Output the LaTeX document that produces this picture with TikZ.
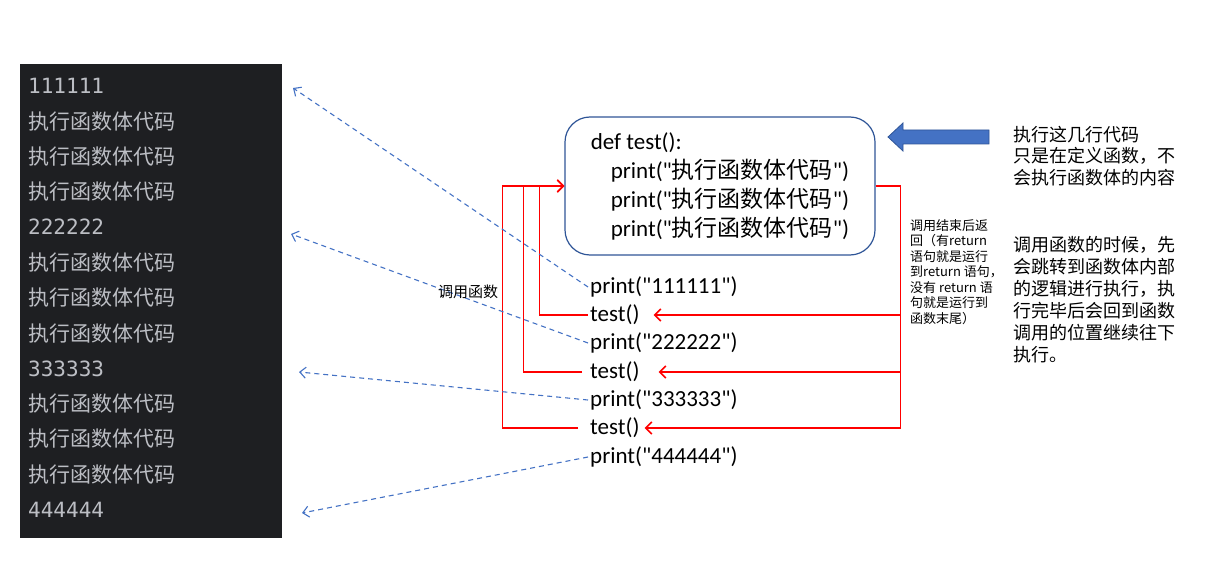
\documentclass[tikz,border=0pt]{standalone}
\usepackage{fontspec}
\setmainfont{Noto Sans CJK SC}
\newfontfamily\cjkfont{Noto Sans CJK SC}
\newfontfamily\codefont{Carlito}
\newfontfamily\monofont{DejaVu Sans Mono}
\usetikzlibrary{arrows.meta,calc}
\definecolor{termbg}{HTML}{1E1F22}
\definecolor{termfg}{HTML}{BCBEC4}
\definecolor{linkblue}{HTML}{4472C4}
\definecolor{boxblue}{HTML}{2F5597}
\newcommand\bodytext{执行函数体代码}
\begin{document}
\begin{tikzpicture}[x=1pt,y=-1pt,
    term/.style={anchor=west,inner sep=0pt,text=termfg,font=\fontsize{21}{24}\selectfont},
    codeline/.style={anchor=west,inner sep=2pt,font=\fontsize{23}{28}\selectfont\codefont},
    fnbox/.style={draw=boxblue,line width=1.2pt,rounded corners=25pt,minimum width=310pt,
      minimum height=138pt,align=left,font=\fontsize{23}{29}\selectfont\codefont},
    call/.style={red,line width=1.5pt,-{Straight Barb[length=6pt,width=12pt]}},
    ret/.style={red,line width=1.5pt,-{Straight Barb[length=6pt,width=12pt]}},
    flow/.style={linkblue,line width=1.1pt,dash pattern=on 5pt off 4pt,-{Straight Barb[length=6pt,width=11pt]}},
    note/.style={inner sep=0pt,align=left}]
  \useasboundingbox (0,0) rectangle (1206,561);
  \fill[termbg] (20,64) rectangle (282,538);
  \foreach \t [count=\i from 0] in {{\monofont 111111},\bodytext,\bodytext,\bodytext,
      {\monofont 222222},\bodytext,\bodytext,\bodytext,
      {\monofont 333333},\bodytext,\bodytext,\bodytext,{\monofont 444444}}
    \node[term] (o\i) at (28,{86+35.3*\i}) {\t};
  \node[fnbox] (fn) at (720,186) {def test():\\
    \hspace{20pt}print("{\cjkfont\bodytext}")\\
    \hspace{20pt}print("{\cjkfont\bodytext}")\\
    \hspace{20pt}print("{\cjkfont\bodytext}")};
  \node[codeline] (p1) at (588,287) {print("111111")};
  \node[codeline] (c1) at (588,315) {test()};
  \node[codeline] (p2) at (588,343) {print("222222")};
  \node[codeline] (c2) at (588,372) {test()};
  \node[codeline] (p3) at (588,400) {print("333333")};
  \node[codeline] (c3) at (588,428) {test()};
  \node[codeline] (p4) at (588,457) {print("444444")};
  \draw[call] (c1.west) -| ($(fn.west)+(-25,0)$) -- (fn.west);
  \draw[call,shorten <=6pt] (c2.west) -| ($(fn.west)+(-41,0)$) -- (fn.west);
  \draw[call,shorten <=10pt] (c3.west) -| ($(fn.west)+(-62,0)$) -- (fn.west);
  \coordinate (rt) at ($(fn.east)+(25,0)$);
  \draw[ret] (fn.east) -- (rt) |- ([xshift=3pt]c3.east);
  \draw[ret] (rt) |- ([xshift=12pt]c1.east);
  \draw[ret] (rt) |- ([xshift=17pt]c2.east);
  \coordinate (hit1) at (293,88);
  \coordinate (hit2) at (291,234);
  \coordinate (hit3) at (299,372);
  \coordinate (hit4) at (302,513);
  \draw[flow] (p1.west) -- (hit1);
  \draw[flow] (p2.west) -- (hit2);
  \draw[flow] (p3.west) -- (hit3);
  \draw[flow] (p4.west) -- (hit4);
  \node[note,font=\fontsize{15}{18}\selectfont] (lbcall) at (468,292) {调用函数};
  \node[note,anchor=north west,font=\fontsize{13}{15.5}\selectfont] (lbret) at (910,219)
    {调用结束后返\\回（有return\\语句就是运行\\到return 语句，\\没有 return 语\\句就是运行到\\函数末尾）};
  \filldraw[fill=linkblue,draw=boxblue,line width=0.8pt] (888,137) -- (903,123) -- (903,130)
    -- (989,130) -- (989,144) -- (903,144) -- (903,151) -- cycle;
  \node[note,anchor=north west,font=\fontsize{18}{21.5}\selectfont] (lbdef) at (1013,126)
    {执行这几行代码\\只是在定义函数，不\\会执行函数体的内容};
  \node[note,anchor=north west,font=\fontsize{18}{22}\selectfont] (lbrun) at (1013,236)
    {调用函数的时候，先\\会跳转到函数体内部\\的逻辑进行执行，执\\行完毕后会回到函数\\调用的位置继续往下\\执行。};
\end{tikzpicture}
\end{document}
